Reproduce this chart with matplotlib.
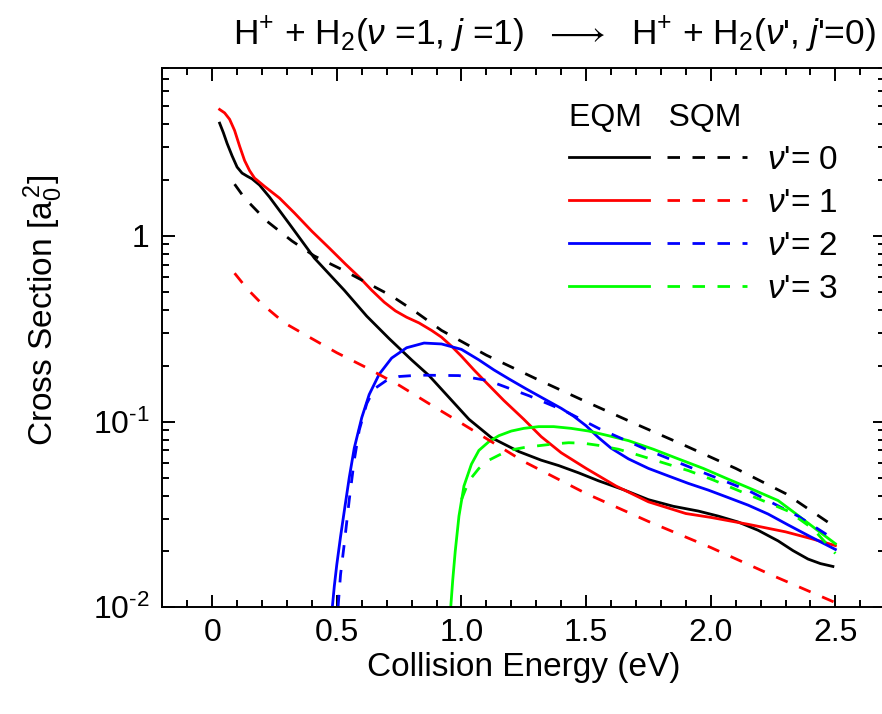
import matplotlib
matplotlib.use("Agg")
import matplotlib.pyplot as plt
from matplotlib.lines import Line2D
from matplotlib.ticker import FixedLocator, LogLocator, MultipleLocator, NullFormatter

plt.rcParams['font.family'] = ['Liberation Sans', 'DejaVu Sans']
plt.rcParams['mathtext.fontset'] = 'custom'
plt.rcParams['mathtext.rm'] = 'Liberation Sans'
plt.rcParams['mathtext.it'] = 'Liberation Sans:italic'

# EQM v'=0 (black solid)
e_eqm0 = [0.03, 0.045, 0.06, 0.08, 0.10, 0.12, 0.14, 0.16, 0.19, 0.23, 0.31, 0.41, 0.53,
          0.62, 0.71, 0.80, 0.87, 0.95, 1.03, 1.12, 1.23, 1.32, 1.39, 1.47, 1.55, 1.65,
          1.75, 1.85, 1.95, 2.03, 2.11, 2.19, 2.27, 2.33, 2.39, 2.44, 2.49]
s_eqm0 = [4.05, 3.6, 3.15, 2.7, 2.35, 2.18, 2.1, 2.03, 1.88, 1.62, 1.16, 0.76, 0.51,
          0.37, 0.28, 0.215, 0.177, 0.135, 0.103, 0.082, 0.069, 0.062, 0.058, 0.053, 0.048, 0.043,
          0.038, 0.035, 0.033, 0.031, 0.0288, 0.026, 0.0228, 0.0202, 0.0182, 0.0172, 0.0166]
# SQM v'=0 (black dashed)
e_sqm0 = [0.09, 0.13, 0.22, 0.32, 0.41, 0.52, 0.62, 0.72, 0.82, 0.92, 1.1, 1.3,
          1.5, 1.7, 1.9, 2.1, 2.3, 2.5]
s_sqm0 = [1.9, 1.6, 1.2, 0.94, 0.78, 0.66, 0.56, 0.475, 0.387, 0.31, 0.228, 0.17,
          0.128, 0.097, 0.074, 0.056, 0.041, 0.027]
# EQM v'=1 (red solid)
e_eqm1 = [0.03, 0.05, 0.07, 0.09, 0.11, 0.13, 0.15, 0.17, 0.21, 0.27, 0.33, 0.40, 0.47,
          0.535, 0.59, 0.64, 0.69, 0.735, 0.78, 0.83, 0.88, 0.92, 0.96, 1.0, 1.05, 1.1,
          1.17, 1.25, 1.32, 1.4, 1.5, 1.62, 1.75, 1.9, 2.0, 2.15, 2.3, 2.4, 2.5]
s_eqm1 = [4.8, 4.6, 4.25, 3.7, 3.05, 2.55, 2.25, 2.05, 1.85, 1.6, 1.33, 1.06, 0.86,
          0.705, 0.6, 0.51, 0.44, 0.395, 0.365, 0.34, 0.31, 0.285, 0.255, 0.225, 0.19, 0.162,
          0.13, 0.103, 0.083, 0.068, 0.056, 0.045, 0.037, 0.032, 0.0305, 0.028, 0.0255, 0.0235, 0.0215]
# SQM v'=1 (red dashed)
e_sqm1 = [0.09, 0.14, 0.2, 0.29, 0.4, 0.5, 0.62, 0.75, 0.87, 1.0, 1.25, 1.5, 1.75,
          2.0, 2.25, 2.5]
s_sqm1 = [0.63, 0.52, 0.43, 0.34, 0.28, 0.235, 0.195, 0.157, 0.125, 0.098, 0.061, 0.041, 0.029,
          0.021, 0.0148, 0.0106]
# EQM v'=2 (blue solid)
e_eqm2 = [0.482, 0.49, 0.5, 0.515, 0.53, 0.55, 0.57, 0.6, 0.63, 0.67, 0.72, 0.78, 0.85,
          0.92, 1.0, 1.07, 1.13, 1.19, 1.26, 1.33, 1.4, 1.45, 1.5, 1.55, 1.6, 1.67, 1.75,
          1.83, 1.91, 1.99, 2.07, 2.15, 2.23, 2.31, 2.4, 2.5]
s_eqm2 = [0.01, 0.013, 0.017, 0.024, 0.033, 0.05, 0.072, 0.105, 0.14, 0.18, 0.22, 0.25, 0.265,
          0.262, 0.245, 0.215, 0.19, 0.17, 0.15, 0.133, 0.118, 0.107, 0.095, 0.082, 0.072, 0.063, 0.056,
          0.051, 0.0465, 0.0428, 0.039, 0.0355, 0.0318, 0.0278, 0.024, 0.0205]
# SQM v'=2 (blue dashed)
e_sqm2 = [0.505, 0.515, 0.53, 0.55, 0.57, 0.59, 0.62, 0.65, 0.70, 0.75, 0.83, 0.99, 1.11,
          1.27, 1.41, 1.55, 1.75, 1.95, 2.15, 2.35, 2.5]
s_sqm2 = [0.01, 0.015, 0.022, 0.038, 0.062, 0.09, 0.125, 0.15, 0.167, 0.175, 0.178, 0.177, 0.166,
          0.138, 0.115, 0.092, 0.07, 0.0545, 0.0426, 0.031, 0.023]
# EQM v'=3 (green solid)
e_eqm3 = [0.957, 0.965, 0.975, 0.99, 1.01, 1.04, 1.07, 1.11, 1.15, 1.2, 1.25, 1.31, 1.37,
          1.44, 1.51, 1.59, 1.67, 1.77, 1.87, 1.97, 2.07, 2.17, 2.27, 2.34, 2.42, 2.5]
s_eqm3 = [0.01, 0.014, 0.02, 0.031, 0.045, 0.059, 0.07, 0.078, 0.084, 0.089, 0.092, 0.094, 0.094,
          0.092, 0.089, 0.084, 0.079, 0.071, 0.063, 0.056, 0.049, 0.043, 0.0376, 0.032, 0.0265, 0.022]
# SQM v'=3 (green dashed)
e_sqm3 = [1.0, 1.03, 1.07, 1.11, 1.15, 1.19, 1.25, 1.31, 1.37, 1.43, 1.49, 1.55, 1.63, 1.71,
          1.81, 1.91, 2.01, 2.11, 2.21, 2.31, 2.41, 2.5]
s_sqm3 = [0.038, 0.048, 0.056, 0.062, 0.066, 0.07, 0.0725, 0.0742, 0.0758, 0.077, 0.0765, 0.0745,
          0.071, 0.066, 0.06, 0.0545, 0.0485, 0.0426, 0.0375, 0.033, 0.0265, 0.0195]

colors = ['black', '#ff0000', '#0000ff', '#00ff00']
eqm = [(e_eqm0, s_eqm0), (e_eqm1, s_eqm1), (e_eqm2, s_eqm2), (e_eqm3, s_eqm3)]
sqm = [(e_sqm0, s_sqm0), (e_sqm1, s_sqm1), (e_sqm2, s_sqm2), (e_sqm3, s_sqm3)]

xticks = [0, 0.5, 1.0, 1.5, 2.0, 2.5]
xlabels = ['0', '0.5', '1.0', '1.5', '2.0', '2.5']
yticks = [0.01, 0.1, 1]
ylabels = ['10$^{\u2010 2}$', '10$^{\u2010 1}$', '1']

lw = 2.0
dash = (0, (4.5, 4.5))

fig = plt.figure(figsize=(8.82, 7.14), dpi=100)
ax = fig.add_axes([0.184, 0.1494, 0.8197, 0.755])

for c, (x, y) in zip(colors, eqm):
    ax.plot(x, y, color=c, lw=lw)
for c, (x, y) in zip(colors, sqm):
    ax.plot(x, y, color=c, lw=lw, linestyle=dash)

ax.set_yscale('log')
ax.set_xlim(-0.2, 2.7)
ax.set_ylim(0.01, 8)

ax.set_xticks(xticks, xlabels)
ax.xaxis.set_minor_locator(MultipleLocator(0.1))
ax.yaxis.set_major_locator(FixedLocator(yticks))
ax.set_yticklabels(ylabels)
ax.yaxis.set_minor_locator(LogLocator(base=10, subs=range(2, 10)))
ax.yaxis.set_minor_formatter(NullFormatter())

ax.tick_params(which='both', direction='in', top=True, right=True, width=1.4)
ax.tick_params(which='major', length=9, labelsize=23)
ax.tick_params(which='minor', length=5)
ax.tick_params(axis='x', pad=8)
ax.tick_params(axis='y', pad=9)
for sp in ax.spines.values():
    sp.set_linewidth(1.4)

ax.set_xlabel('Collision Energy (eV)', fontsize=24)
ax.xaxis.set_label_coords(0.5, -0.083)
ax.set_ylabel(r'Cross Section [a$_0^{\,2}$]', fontsize=24)
ax.yaxis.set_label_coords(-0.135, 0.55)

# legend: solid column (EQM) and dashed column (SQM)
handles = [Line2D([], [], color=c, lw=lw) for c in colors]
handles += [Line2D([], [], color=c, lw=lw, linestyle=dash) for c in colors]
labels = [''] * 4 + [r"$\nu$'= %d" % i for i in range(4)]
leg = ax.legend(handles, labels, ncol=2, title='EQM   SQM', title_fontsize=23,
                fontsize=24, frameon=False, handlelength=2.4, handletextpad=0.6,
                columnspacing=-0.05, labelspacing=0.36, alignment='left',
                loc='upper left', bbox_to_anchor=(0.544, 0.96), borderaxespad=0)

fig.text(0.628, 0.951,
         r"H$^{+}$ + H$_2$($\nu$ =1, $j$ =1)  $\longrightarrow$  H$^{+}$ + H$_2$($\nu$', $j$'=0)",
         fontsize=25.5, ha='center', va='center')

fig.savefig('out.png', dpi=100)
